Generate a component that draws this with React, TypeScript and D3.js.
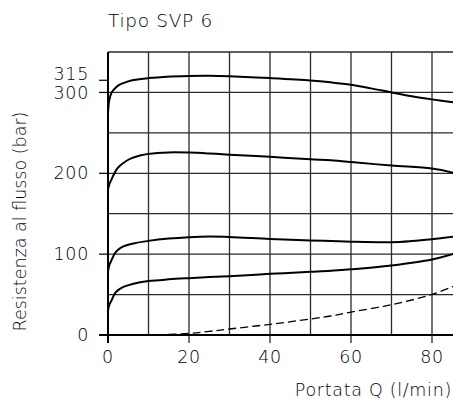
import React from "react";
import * as d3 from "d3";

const title = "Tipo SVP 6";
const xLabel = "Portata Q (l/min)";
const yLabel = "Resistenza al flusso (bar)";

const xTicks = [0, 20, 40, 60, 80];
const xGrid = [0, 10, 20, 30, 40, 50, 60, 70, 80];
const yTicks = [0, 100, 200, 300, 315];
const yGrid = [50, 100, 150, 200, 250, 300, 350];

// Curve data (Q l/min, bar)
const q315 = [0, 0.3, 0.9, 2, 3, 4.6, 6.3, 10, 14.5, 20, 25, 30, 40, 50, 55, 60, 65, 70, 75, 80, 85.7];
const v315 = [274, 290, 300, 306.5, 310, 313, 315.3, 317.7, 319.5, 320.4, 320.6, 320, 317.7, 314.8, 312.5, 309.5, 305, 300, 295.3, 291.4, 287.5];

const q220 = [0, 0.3, 1, 2.1, 3, 4.6, 6, 7.9, 10, 15, 20, 25, 30, 40, 50, 55, 60, 70, 80, 85.7];
const v220 = [180, 186, 194, 204.5, 209.5, 215.5, 219, 222, 224, 225.8, 225.6, 224.5, 223, 220.3, 217.3, 216, 214, 209.5, 205.8, 200];

const q120 = [0, 0.3, 1, 1.7, 2.5, 3.8, 6.3, 10, 15, 20, 25, 30, 40, 50, 55, 60, 70, 75, 80, 85.7];
const v120 = [78, 86, 94, 101, 105.5, 109.5, 113.2, 116.4, 119.3, 121, 121.8, 121.3, 118.8, 116.9, 116.2, 115.4, 114.8, 116.2, 118.5, 121.8];

const q70 = [0, 0.3, 1, 1.7, 2.5, 3.8, 6.3, 10, 15, 20, 25, 30, 40, 50, 55, 60, 70, 80, 85.7];
const v70 = [30, 37, 44, 51.5, 55.5, 59.5, 63.5, 66.7, 68.8, 70.3, 71.6, 72.8, 75.6, 78.1, 79.4, 81.2, 86, 93.4, 101];

const qDash = [12, 20, 25, 30, 40, 50, 55, 60, 70, 80, 85.7];
const vDash = [0, 2, 4.5, 7.4, 13.2, 19.8, 23.5, 28.4, 37.4, 50.2, 61];

const W = 453;
const H = 401;
const FONT = "'DejaVu Sans', sans-serif";

export default function App() {
  const x = d3.scaleLinear().domain([0, 80]).range([108, 432]);
  const y = d3.scaleLinear().domain([0, 350]).range([335, 52]);
  const right = W;

  const line = d3
    .line<[number, number]>()
    .x((d) => x(d[0]))
    .y((d) => y(d[1]))
    .curve(d3.curveCatmullRom.alpha(0.5));

  const mk = (qs: number[], vs: number[]) => line(qs.map((q, i) => [q, vs[i]] as [number, number])) || "";

  const solid = [mk(q315, v315), mk(q220, v220), mk(q120, v120), mk(q70, v70)];
  const dashed = mk(qDash, vDash);

  const textStyle: React.CSSProperties = {
    fontFamily: FONT,
    fontSize: 17.5,
    fontWeight: 200,
    letterSpacing: 0.7,
    fill: "#000",
  };

  return (
    <svg width={W} height={H} style={{ position: "absolute", left: 0, top: 0, background: "#fff" }}>
      <rect x={0} y={0} width={W} height={H} fill="#fff" />
      {yGrid.map((v) => (
        <line key={"hg" + v} x1={x(0)} x2={right} y1={y(v)} y2={y(v)} stroke="#2a2a2a" strokeWidth={1.3} />
      ))}
      {xGrid.map((v) => (
        <line
          key={"vg" + v}
          x1={x(v)}
          x2={x(v)}
          y1={y(350)}
          y2={xTicks.includes(v) ? y(0) + 8 : y(0)}
          stroke="#2a2a2a"
          strokeWidth={1.3}
        />
      ))}
      {yTicks.map((v) => (
        <line key={"yt" + v} x1={x(0) - 9} x2={x(0)} y1={y(v)} y2={y(v)} stroke="#111" strokeWidth={1.3} />
      ))}
      <line x1={x(0)} x2={x(0)} y1={y(350)} y2={y(0) + 8} stroke="#000" strokeWidth={2} />
      <line x1={x(0) - 9} x2={right} y1={y(0)} y2={y(0)} stroke="#000" strokeWidth={2} />

      {solid.map((d, i) => (
        <path key={"c" + i} d={d} fill="none" stroke="#000" strokeWidth={2} />
      ))}
      <path d={dashed} fill="none" stroke="#000" strokeWidth={1.3} strokeDasharray="8,4" />

      {yTicks.map((v) => (
        <text
          key={"yl" + v}
          x={89}
          y={y(v) + (v === 315 ? -6 : v === 300 ? 1 : 0)}
          textAnchor="end"
          dominantBaseline="central"
          style={textStyle}
        >
          {v}
        </text>
      ))}
      {xTicks.map((v) => (
        <text key={"xl" + v} x={x(v)} y={363} textAnchor="middle" style={textStyle}>
          {v}
        </text>
      ))}

      <text x={108} y={27} style={{ ...textStyle, fontSize: 18.5 }}>
        {title}
      </text>
      <text x={452} y={396} textAnchor="end" style={textStyle}>
        {xLabel}
      </text>
      <text
        transform={`translate(25.5, ${(113 + 330) / 2}) rotate(-90)`}
        textAnchor="middle"
        style={{ ...textStyle, letterSpacing: 0 }}
      >
        {yLabel}
      </text>
    </svg>
  );
}
